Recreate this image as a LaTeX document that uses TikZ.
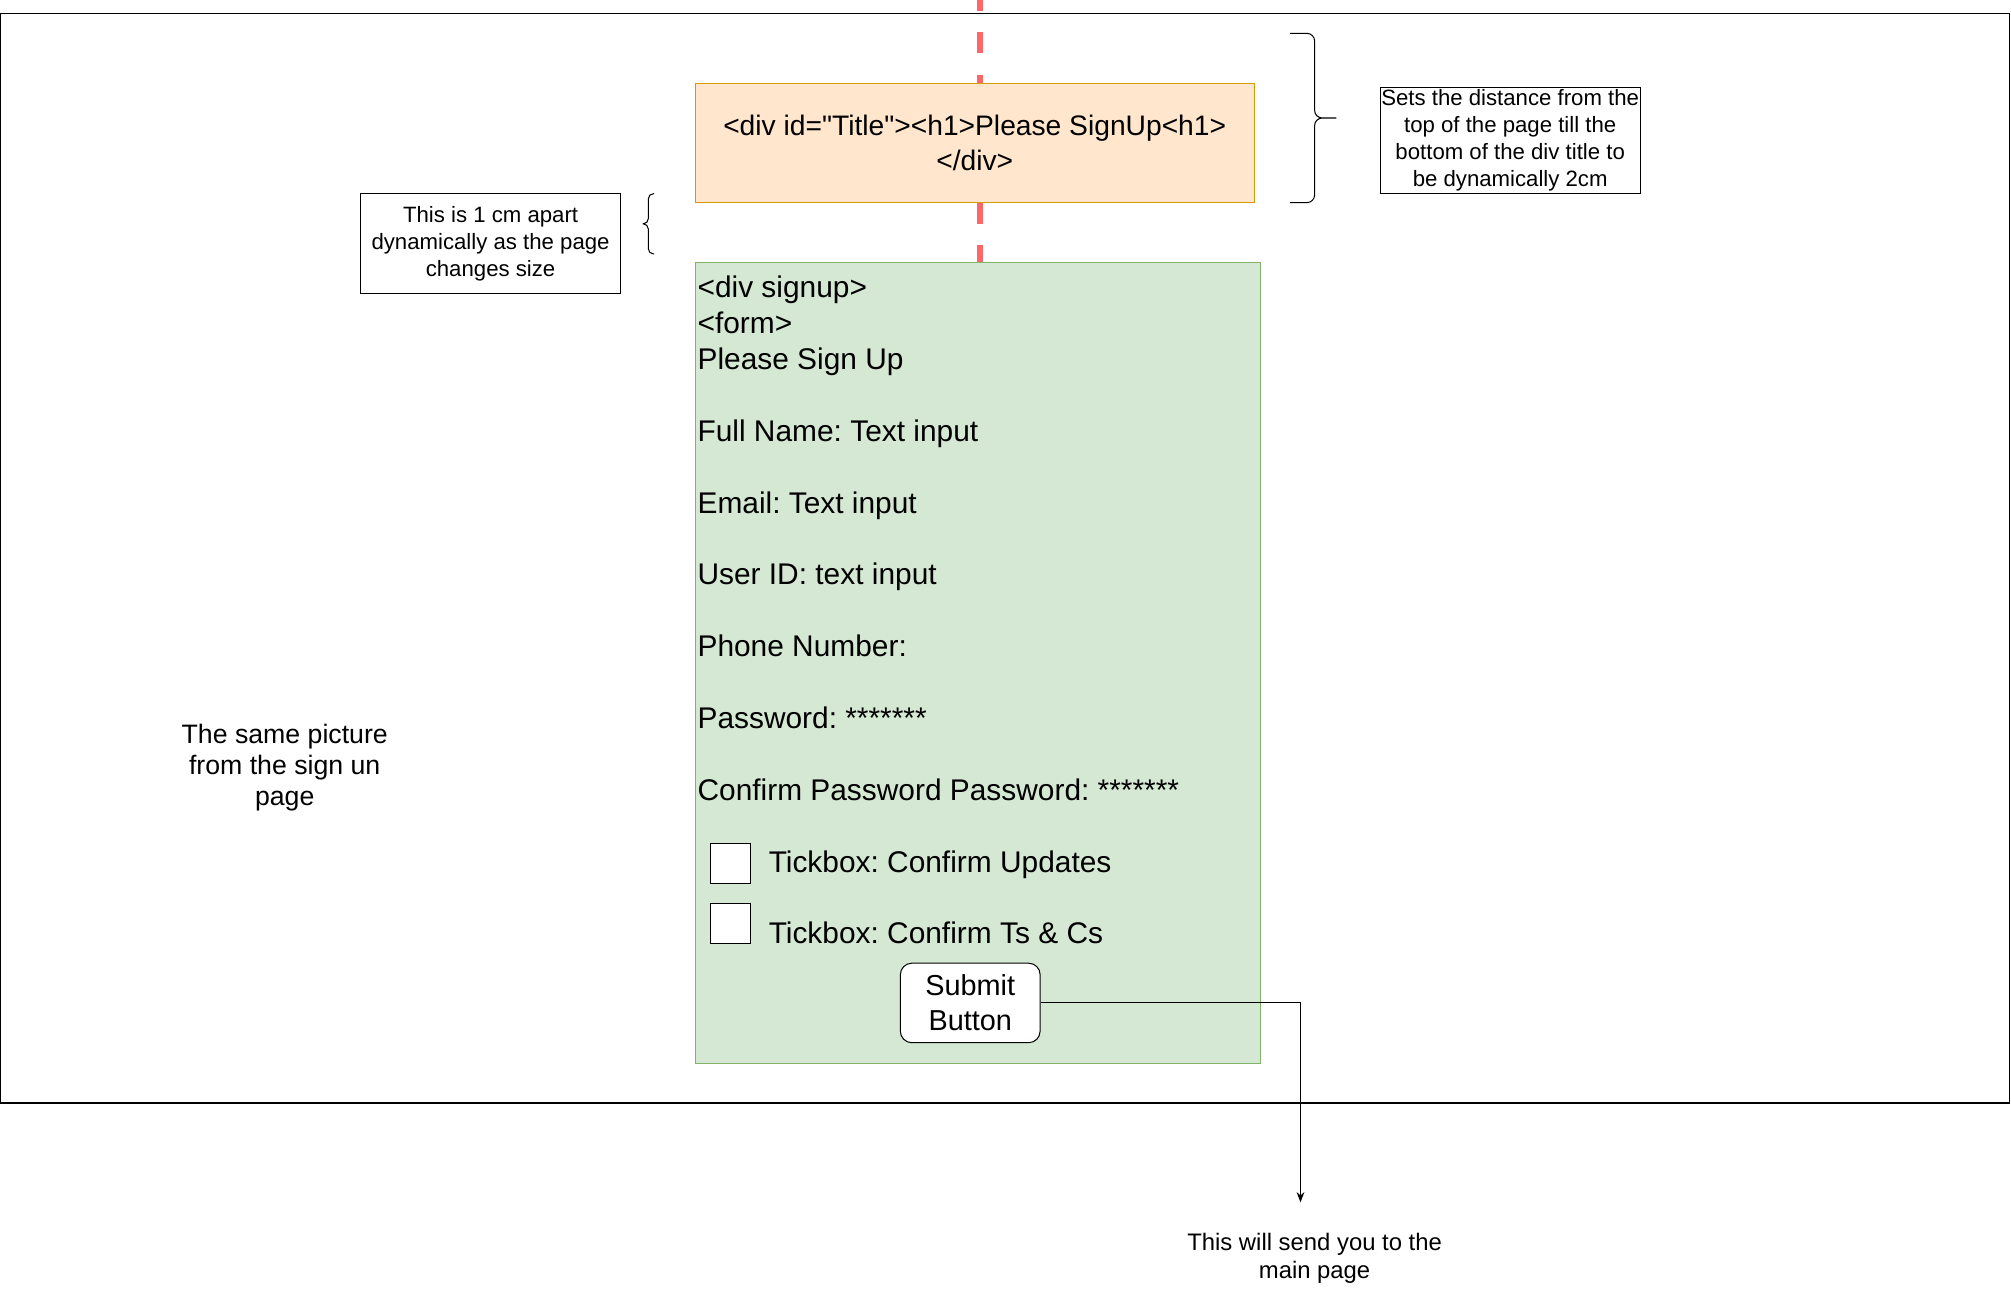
\documentclass[tikz,border=0pt]{standalone}
\usepackage{fontspec}
\setmainfont{Liberation Sans}
\newfontfamily\codefont{Liberation Sans}
\usepackage{tikz}
\usetikzlibrary{arrows.meta}
\definecolor{titlefill}{HTML}{FFE6CC}
\definecolor{titledraw}{HTML}{D79B00}
\definecolor{formfill}{HTML}{D5E8D4}
\definecolor{formdraw}{HTML}{82B366}
\definecolor{guide}{HTML}{FF6666}

\begin{document}
\frenchspacing
\begin{tikzpicture}[x=1pt,y=-1pt,>={Stealth[length=8pt,width=6pt]},line width=0.8pt,
  box node/.style={draw,rectangle,inner sep=0pt,align=center},
  note node/.style={box node,minimum width=203pt,font=\fontsize{17.3}{21}\selectfont},
  form line/.style={anchor=base west,inner sep=0pt,font=\fontsize{23.3}{28}\selectfont},
  tick box/.style={draw,fill=white,minimum size=31pt,inner sep=0pt},
  guide line/.style={draw=guide,line width=5pt,dash pattern=on 16.5pt off 16.5pt},
  plain text/.style={align=center,inner sep=0pt}]

\useasboundingbox (0,0) rectangle (1568,1004.3);

% page frame
\draw (0.5,10.5) rectangle (1567,860);

\coordinate (page top) at (764,0);

\node[box node,draw=titledraw,fill=titlefill,minimum width=436pt,minimum height=93pt,
  font=\codefont\fontsize{22}{27}\selectfont] (title) at (760,111.5)
  {<div id="Title"><h1>Please SignUp<h1>\\</div>};

\node[box node,draw=formdraw,fill=formfill,minimum width=441pt,minimum height=624pt] (signup) at (762.5,517) {};

\foreach \y/\txt in {232/{<div signup>},260/{<form>},288/{Please Sign Up},
  344/{Full Name: Text input},400/{Email: Text input},456/{User ID: text input},
  512/{Phone Number:},568/{Password: *******},624/{Confirm Password Password: *******}}{
  \node[form line] (line\y) at (543.5,\y) {\txt};
}

\node[tick box] (box1) at (569.5,673) {};
\node[tick box] (box2) at (569.5,720) {};
\node[form line] (tick1) at (599,680) {Tickbox: Confirm Updates};
\node[form line] (tick2) at (599,736) {Tickbox: Confirm Ts \& Cs};

\node[box node,fill=white,rounded corners=9pt,minimum width=109pt,minimum height=62pt,
  font=\fontsize{22.5}{27.5}\selectfont] (submit) at (756.5,782) {Submit\\Button};

% red guide
\draw[guide line,dash phase=7.9pt] (page top) -- (page top |- title.north);
\draw[guide line] (page top |- title.south) -- (page top |- signup.north);

% braces
\draw[rounded corners=6pt] (1042,92) -- (1025,92) -- (1025,26) -- (1006,26)
  (1042,92) -- (1025,92) -- (1025,158) -- (1006,158);
\draw[rounded corners=4pt] (501,174.5) -- (505.5,174.5) -- (505.5,151) -- (510,151)
  (501,174.5) -- (505.5,174.5) -- (505.5,198) -- (510,198);

\node[note node,minimum height=83pt] (topnote) at (1177.5,109.5)
  {Sets the distance from the\\top of the page till the\\bottom of the div title to\\be dynamically 2cm};
\node[note node,minimum height=78pt] (gapnote) at (382.5,190)
  {This is 1 cm apart\\dynamically as the page\\changes size};

\node[plain text,font=\fontsize{20.8}{24.5}\selectfont] (samepic) at (222,598.5)
  {The same picture\\from the sign un\\page};

\coordinate (target) at (1014,937.5);
\draw[->] (submit.east) -| (target);

\node[plain text,font=\fontsize{18.6}{22}\selectfont] (sendto) at (1025,981)
  {This will send you to the\\main page};

\end{tikzpicture}
\end{document}
